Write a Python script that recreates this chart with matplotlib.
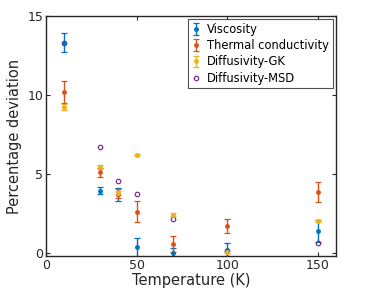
import matplotlib
matplotlib.use("Agg")
import matplotlib.pyplot as plt

temps = [10, 30, 40, 50, 70, 100, 150]

visc = [13.3, 3.95, 3.7, 0.35, 0.0, 0.2, 1.4]
visc_err = [0.6, 0.2, 0.4, 0.6, 0.3, 0.4, 0.7]

thermal = [10.2, 5.1, 3.75, 2.62, 0.55, 1.7, 3.84]
thermal_err = [0.7, 0.3, 0.3, 0.65, 0.5, 0.42, 0.63]

gk = [9.25, 5.45, 3.8, 6.2, 2.42, 0.05, 2.02]
gk_err = [0.2, 0.12, 0.15, 0.06, 0.08, 0.05, 0.04]

msd = [13.3, 6.73, 4.58, 3.71, 2.15, 0.1, 0.65]

c_blue = "#0072BD"
c_orange = "#D95319"
c_yellow = "#EDB120"
c_purple = "#7E2F8E"
axcol = "#262626"

plt.rcParams['font.family'] = ['DejaVu Sans']

fig = plt.figure(figsize=(3.65, 2.94), dpi=100)
ax = fig.add_axes([0.126, 0.129, 0.7945, 0.8166])

kw = dict(fmt='o', markersize=2.5, capsize=2, elinewidth=1.0, capthick=0.9)
h1 = ax.errorbar(temps, visc, yerr=visc_err, color=c_blue, label='Viscosity', **kw)
h2 = ax.errorbar(temps, thermal, yerr=thermal_err, color=c_orange, label='Thermal conductivity', **kw)
h3 = ax.errorbar(temps, gk, yerr=gk_err, color=c_yellow, label='Diffusivity-GK', **kw)
h4, = ax.plot(temps, msd, 'o', markersize=3.2, markerfacecolor='none', markeredgecolor=c_purple,
              markeredgewidth=0.9, linestyle='none', label='Diffusivity-MSD')

ax.set_xlim(0, 160)
ax.set_ylim(-0.2, 15)
ax.set_xticks([0, 50, 100, 150])
ax.set_yticks([0, 5, 10, 15])
ax.tick_params(direction='in', top=True, right=True, length=3, width=0.8,
               colors=axcol, labelsize=9, pad=2)
for s in ax.spines.values():
    s.set_color(axcol)
    s.set_linewidth(1.0)

ax.set_xlabel('Temperature (K)', fontsize=10.5, color=axcol, labelpad=1)
ax.set_ylabel('Percentage deviation', fontsize=10.5, color=axcol, labelpad=4)

leg = ax.legend([h1, h2, h3, h4],
                ['Viscosity', 'Thermal conductivity', 'Diffusivity-GK', 'Diffusivity-MSD'],
                loc='upper right', fontsize=8.3, frameon=True, fancybox=False,
                edgecolor=axcol, handlelength=0.9, handletextpad=0.5,
                borderpad=0.3, labelspacing=0.28, borderaxespad=0.3)
leg.get_frame().set_linewidth(0.8)

fig.savefig('out.png', dpi=100)
